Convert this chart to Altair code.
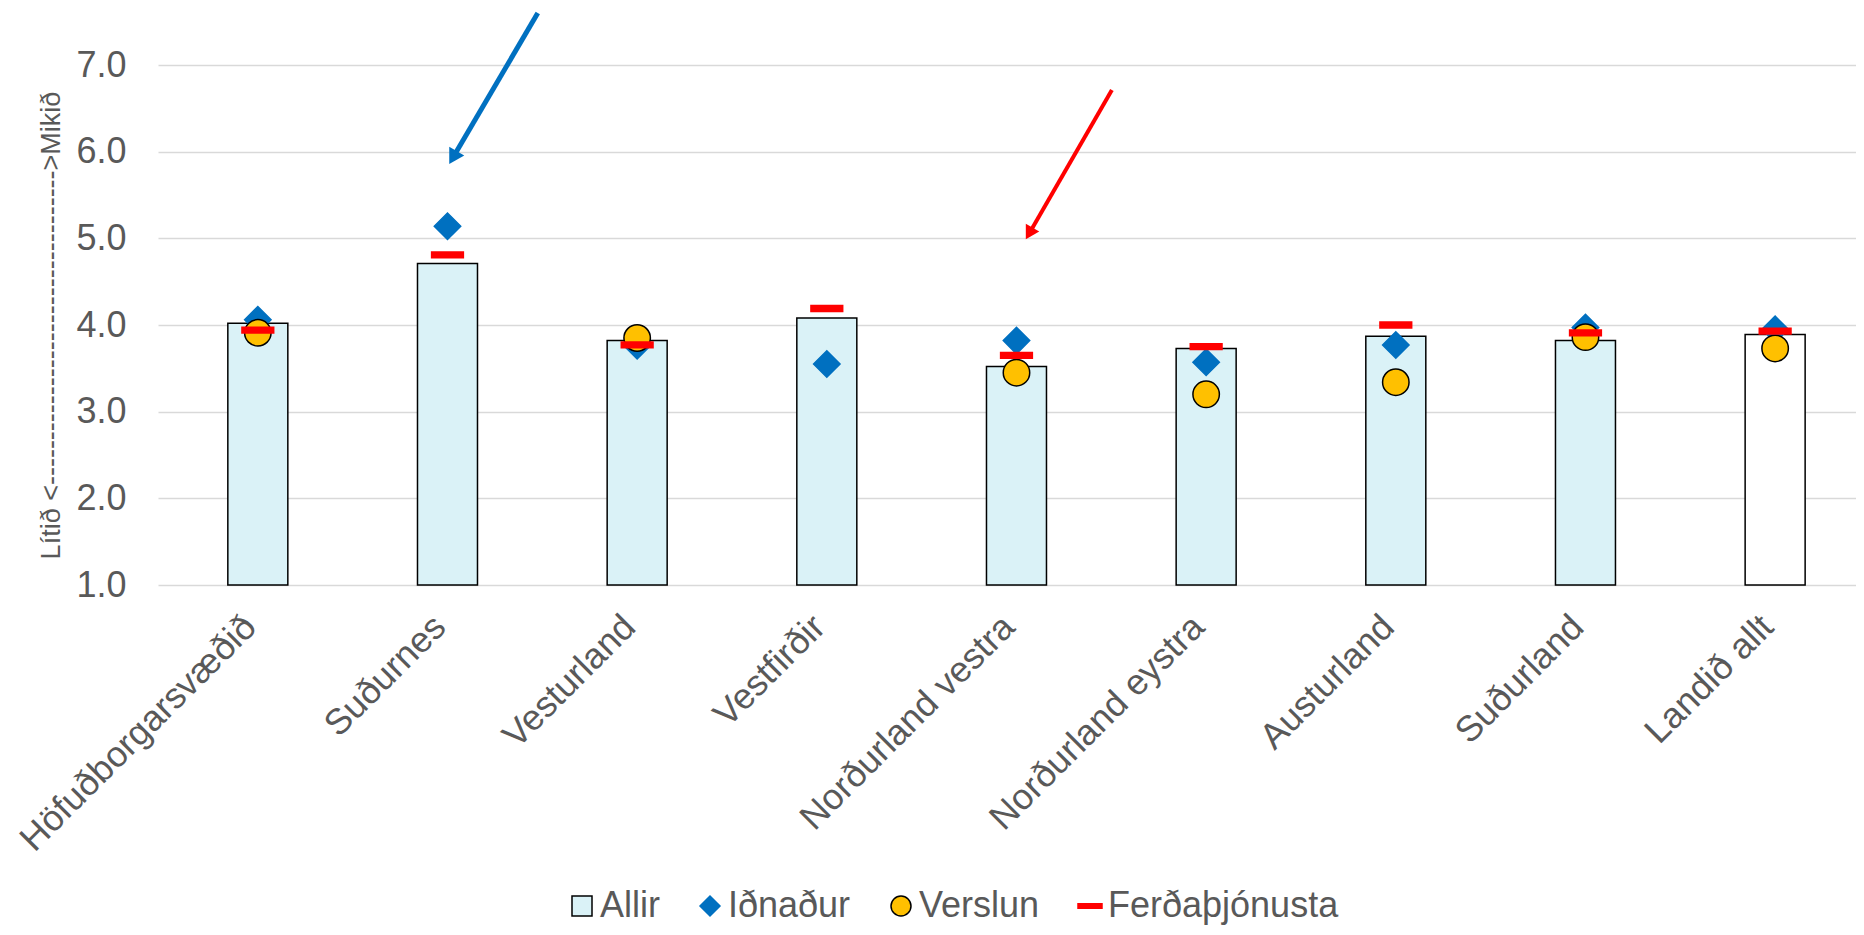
import json
import altair as alt
import pandas as pd

# ---------------- data ----------------
regions = ["Höfuðborgarsvæðið", "Suðurnes", "Vesturland", "Vestfirðir",
           "Norðurland vestra", "Norðurland eystra", "Austurland",
           "Suðurland", "Landið allt"]
allir = [4.02, 4.71, 3.82, 4.08, 3.52, 3.73, 3.87, 3.82, 3.89]
idnadur = [4.06, 5.14, 3.76, 3.55, 3.82, 3.57, 3.77, 3.97, 3.95]
verslun = [3.91, None, 3.85, None, 3.45, 3.20, 3.34, 3.86, 3.73]
ferdathjonusta = [3.94, 4.81, 3.77, 4.19, 3.65, 3.75, 4.00, 3.91, 3.93]
series_names = ["Allir", "Iðnaður", "Verslun", "Ferðaþjónusta"]
y_ticks = [1, 2, 3, 4, 5, 6, 7]
y_title = "Lítið <" + "-" * 35 + ">Mikið"

# annotation arrows (in data units: category index, value)
arrow_tail_x = [1.476, 4.503]
arrow_tail_y = [7.600, 6.712]
arrow_head_x = [1.029, 4.067]
arrow_head_y = [5.932, 5.057]
arrow_key = ["blue", "red"]

# ---------------- tables ----------------
bars_df = pd.DataFrame({
    "idx": list(range(len(regions))),
    "region": regions,
    "value": allir,
    "fill": ["#FFFFFF" if r == "Landið allt" else "#DAF2F7" for r in regions],
})

rows = []
for order, (name, vals) in enumerate(zip(series_names[1:], [idnadur, verslun, ferdathjonusta])):
    for i, v in enumerate(vals):
        if v is not None:
            rows.append({"idx": i, "region": regions[i], "series": name, "value": v, "ord": order})
pts_df = pd.DataFrame(rows)

arrow_df = pd.DataFrame({
    "tx": arrow_tail_x, "ty": arrow_tail_y,
    "hx": arrow_head_x, "hy": arrow_head_y,
    "key": arrow_key,
})

# ---------------- scales / axes ----------------
FONT = "Liberation Sans"
GREY = "#595959"
xs = alt.Scale(domain=[-0.5, 8.4], nice=False, zero=False)
ys = alt.Scale(domain=[1, 7], nice=False, zero=False)

label_array = "[" + ",".join(json.dumps(r) for r in regions) + "]"
xaxis = alt.Axis(values=list(range(len(regions))),
                 labelExpr=label_array + "[datum.value]",
                 labelAngle=315, labelAlign="right", labelBaseline="top",
                 labelFontSize=36, labelColor=GREY, labelFont=FONT,
                 labelPadding=24, labelOffset=-20, labelOverlap=False, labelFlush=False,
                 labelLimit=1000, labelBound=False,
                 grid=False, ticks=False, domain=False, title=None)
yaxis = alt.Axis(values=y_ticks, format=".1f",
                 labelFontSize=36, labelColor=GREY, labelFont=FONT,
                 labelPadding=32, labelFlush=False, ticks=False, domain=False,
                 gridColor="#D9D9D9", gridWidth=1.5,
                 title=y_title, titleFontSize=27, titleColor=GREY, titleFont=FONT,
                 titleFontWeight="normal", titleAngle=270, titleX=-107, titleY=260,
                 titleAlign="center", titleBaseline="middle", titleLimit=1000)

legend = alt.Legend(orient="none", legendX=406, legendY=823, direction="horizontal",
                    title=None, labelFontSize=36, labelColor=GREY, labelFont=FONT,
                    labelLimit=1000,
                    symbolSize=400, symbolStrokeWidth=1.5, columnPadding=32,
                    labelOffset=0, symbolOpacity=1)

dash_path = "M-1.2,-0.22L1.2,-0.22L1.2,0.22L-1.2,0.22Z"
shape_scale = alt.Scale(domain=series_names, range=["square", "diamond", "circle", dash_path])
fill_scale = alt.Scale(domain=series_names, range=["#DAF2F7", "#0070C0", "#FFC000", "#FF0000"])
stroke_scale = alt.Scale(domain=series_names, range=["#000000", "#0070C0", "#000000", "#FF0000"])

# ---------------- layers ----------------
bars = alt.Chart(bars_df).mark_bar(size=60, stroke="black", strokeWidth=1.5,
                                   orient="vertical", opacity=1).encode(
    x=alt.X("idx:Q", scale=xs, axis=xaxis),
    y=alt.Y("value:Q", scale=ys, axis=yaxis),
    y2=alt.datum(1),
    fill=alt.Fill("fill:N", scale=None),
)

points = alt.Chart(pts_df).mark_point(filled=True, size=700, opacity=1,
                                      strokeWidth=1.5).encode(
    x=alt.X("idx:Q", scale=xs),
    y=alt.Y("value:Q", scale=ys),
    shape=alt.Shape("series:N", scale=shape_scale, legend=legend),
    fill=alt.Fill("series:N", scale=fill_scale, legend=legend),
    stroke=alt.Stroke("series:N", scale=stroke_scale, legend=legend),
    order=alt.Order("ord:Q"),
)

arrow_color = alt.Scale(domain=["blue", "red"], range=["#0070C0", "#FF0000"])
shafts = alt.Chart(arrow_df).mark_rule(strokeCap="butt").encode(
    x=alt.X("tx:Q", scale=xs), y=alt.Y("ty:Q", scale=ys),
    x2="hx:Q", y2="hy:Q",
    color=alt.Color("key:N", scale=arrow_color, legend=None),
    strokeWidth=alt.StrokeWidth("key:N", scale=alt.Scale(domain=["blue", "red"], range=[5, 4]), legend=None),
)
heads = alt.Chart(arrow_df).mark_point(shape="triangle-up", filled=True, angle=210,
                                       opacity=1).encode(
    x=alt.X("hx:Q", scale=xs), y=alt.Y("hy:Q", scale=ys),
    color=alt.Color("key:N", scale=arrow_color, legend=None),
    size=alt.Size("key:N", scale=alt.Scale(domain=["blue", "red"], range=[300, 240]), legend=None),
)

chart = alt.layer(bars, points, shafts, heads).resolve_scale(
    color="independent", size="independent", strokeWidth="independent"
).properties(
    width=1698, height=520,
    padding={"left": 150, "top": 57, "right": 0, "bottom": 342},
    autosize=alt.AutoSizeParams(type="none"),
).configure(font=FONT).configure_view(strokeWidth=0)

chart.save("out.html", embed_options={"renderer": "svg", "actions": False})
